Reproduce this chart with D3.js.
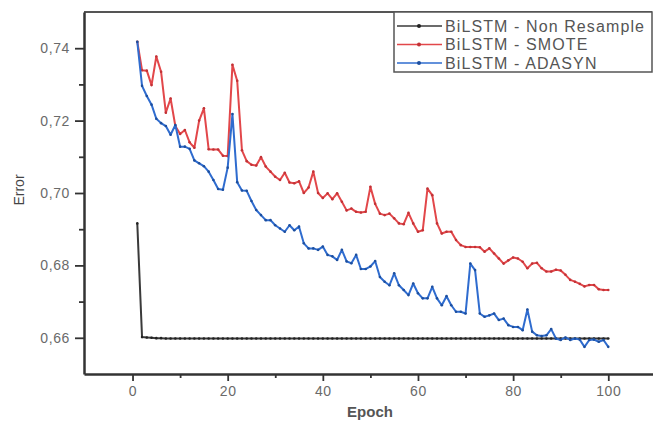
<!DOCTYPE html>
<html>
<head>
<meta charset="utf-8">
<script src="https://cdn.jsdelivr.net/npm/d3@7"></script>
<style>
  body { margin: 0; background: #fff; }
  text { font-family: "Liberation Sans", Arial, sans-serif; }
</style>
</head>
<body>
<div id="chart"></div>
<script>
////////////
//  DATA  //
////////////

var epochs = d3.range(1, 101);

var nonResample = [
  0.6916, 0.6602, 0.6601, 0.6600, 0.6599, 0.6599, 0.6598, 0.6598, 0.6598, 0.6598,
  0.6598, 0.6598, 0.6598, 0.6598, 0.6598, 0.6598, 0.6598, 0.6598, 0.6598, 0.6598,
  0.6598, 0.6598, 0.6598, 0.6598, 0.6598, 0.6598, 0.6598, 0.6598, 0.6598, 0.6598,
  0.6598, 0.6598, 0.6598, 0.6598, 0.6598, 0.6598, 0.6598, 0.6598, 0.6598, 0.6598,
  0.6598, 0.6598, 0.6598, 0.6598, 0.6598, 0.6598, 0.6598, 0.6598, 0.6598, 0.6598,
  0.6598, 0.6598, 0.6598, 0.6598, 0.6598, 0.6598, 0.6598, 0.6598, 0.6598, 0.6598,
  0.6598, 0.6598, 0.6598, 0.6598, 0.6598, 0.6598, 0.6598, 0.6598, 0.6598, 0.6598,
  0.6598, 0.6598, 0.6598, 0.6598, 0.6598, 0.6598, 0.6598, 0.6598, 0.6598, 0.6598,
  0.6598, 0.6598, 0.6598, 0.6598, 0.6598, 0.6598, 0.6598, 0.6598, 0.6598, 0.6598,
  0.6598, 0.6598, 0.6598, 0.6598, 0.6598, 0.6598, 0.6598, 0.6598, 0.6598, 0.6598
];

var smote = [
  0.7418, 0.7339, 0.7338, 0.7298, 0.7377, 0.7335, 0.7222, 0.7261, 0.7185, 0.7163,
  0.7174, 0.7140, 0.7125, 0.7200, 0.7234, 0.7121, 0.7120, 0.7120, 0.7103, 0.7102,
  0.7354, 0.7310, 0.7118, 0.7088, 0.7078, 0.7076, 0.7099, 0.7073, 0.7059, 0.7045,
  0.7036, 0.7056, 0.7029, 0.7027, 0.7032, 0.7000, 0.7015, 0.7059, 0.7000, 0.6986,
  0.6999, 0.6983, 0.6999, 0.6976, 0.6952, 0.6957, 0.6948, 0.6946, 0.6948, 0.7017,
  0.6970, 0.6943, 0.6939, 0.6943, 0.6930, 0.6916, 0.6914, 0.6945, 0.6916, 0.6893,
  0.6897, 0.7012, 0.6994, 0.6916, 0.6888, 0.6893, 0.6893, 0.6870, 0.6856, 0.6851,
  0.6851, 0.6851, 0.6850, 0.6838, 0.6847, 0.6833, 0.6819, 0.6805, 0.6814, 0.6822,
  0.6819, 0.6810, 0.6792, 0.6805, 0.6807, 0.6792, 0.6783, 0.6783, 0.6788, 0.6786,
  0.6774, 0.6760, 0.6755, 0.6749, 0.6742, 0.6746, 0.6746, 0.6734, 0.6732, 0.6732
];

var adasyn = [
  0.7418, 0.7296, 0.7268, 0.7244, 0.7205, 0.7193, 0.7185, 0.7161, 0.7188, 0.7128,
  0.7128, 0.7122, 0.7090, 0.7082, 0.7074, 0.7059, 0.7036, 0.7011, 0.7009, 0.7070,
  0.7218, 0.7030, 0.7007, 0.7006, 0.6978, 0.6953, 0.6939, 0.6925, 0.6925, 0.6911,
  0.6902, 0.6893, 0.6911, 0.6897, 0.6907, 0.6861, 0.6847, 0.6847, 0.6843, 0.6852,
  0.6829, 0.6825, 0.6815, 0.6843, 0.6811, 0.6806, 0.6829, 0.6790, 0.6790, 0.6797,
  0.6812, 0.6768, 0.6755, 0.6745, 0.6778, 0.6745, 0.6732, 0.6718, 0.6750, 0.6723,
  0.6709, 0.6709, 0.6741, 0.6709, 0.6690, 0.6715, 0.6690, 0.6672, 0.6672, 0.6667,
  0.6805, 0.6787, 0.6667, 0.6658, 0.6662, 0.6667, 0.6649, 0.6653, 0.6635, 0.6630,
  0.6630, 0.6621, 0.6678, 0.6617, 0.6607, 0.6605, 0.6607, 0.6624, 0.6598, 0.6594,
  0.6601, 0.6594, 0.6598, 0.6595, 0.6575, 0.6594, 0.6595, 0.6589, 0.6594, 0.6575
];

var seriesNames = ["BiLSTM - Non Resample", "BiLSTM - SMOTE", "BiLSTM - ADASYN"];
var seriesColors = ["#3a3a3a", "#e2474a", "#2f6ccf"];
var markerColors = ["#222", "#c23236", "#1d4f9e"];

var xTicks = [0, 20, 40, 60, 80, 100];
var xMinor = [10, 30, 50, 70, 90];
var yTicks = [0.66, 0.68, 0.70, 0.72, 0.74];
var yMinor = [0.67, 0.69, 0.71, 0.73];

////////////////
// DIMENSIONS //
////////////////

var svgWidth = 653, svgHeight = 425;
var plot = { left: 84, top: 12, right: 653, bottom: 374 };

var svg = d3.select("#chart").append("svg")
  .attr("width", svgWidth)
  .attr("height", svgHeight);

var x = d3.scaleLinear().domain([-10.2, 109.4]).range([plot.left, plot.right]);
var y = d3.scaleLinear().domain([0.65, 0.75]).range([plot.bottom, plot.top]);

var commaFmt = function (d) { return d3.format(".2f")(d).replace(".", ","); };

//////////
// AXES //
//////////

// top frame line
svg.append("line")
  .attr("x1", plot.left).attr("x2", 652)
  .attr("y1", plot.top).attr("y2", plot.top)
  .attr("stroke", "#555").attr("stroke-width", 2);

var xAxis = svg.append("g")
  .attr("transform", "translate(0," + plot.bottom + ")")
  .call(d3.axisBottom(x).tickValues(xTicks).tickSize(7).tickPadding(5).tickSizeOuter(0));

svg.append("g")
  .attr("transform", "translate(0," + plot.bottom + ")")
  .call(d3.axisBottom(x).tickValues(xMinor).tickSize(4).tickFormat("").tickSizeOuter(0))
  .select(".domain").remove();

var yAxis = svg.append("g")
  .attr("transform", "translate(" + plot.left + ",0)")
  .call(d3.axisLeft(y).tickValues(yTicks).tickFormat(commaFmt).tickSize(9).tickPadding(5).tickSizeOuter(0));

svg.append("g")
  .attr("transform", "translate(" + plot.left + ",0)")
  .call(d3.axisLeft(y).tickValues(yMinor).tickSize(5).tickFormat("").tickSizeOuter(0))
  .select(".domain").remove();

svg.selectAll(".domain").attr("stroke", "#333").attr("stroke-width", 2.5);
svg.selectAll(".tick line").attr("stroke", "#333").attr("stroke-width", 1.8);
svg.selectAll(".tick text")
  .attr("fill", "#6a6a6a")
  .style("font-size", "14px")
  .style("letter-spacing", "0.6px");

svg.append("text")
  .attr("transform", "translate(19,190) rotate(-90)")
  .attr("text-anchor", "middle")
  .attr("dy", "0.35em")
  .attr("fill", "#444")
  .style("font-size", "14px")
  .text("Error");

svg.append("text")
  .attr("x", 370)
  .attr("y", 417)
  .attr("text-anchor", "middle")
  .attr("fill", "#555")
  .style("font-size", "15px")
  .style("font-weight", "bold")
  .text("Epoch");

///////////
// LINES //
///////////

var allSeries = [nonResample, smote, adasyn];

var line = d3.line()
  .x(function (d, i) { return x(epochs[i]); })
  .y(function (d) { return y(d); });

// draw in the order that puts blue on top
[1, 0, 2].forEach(function (k) {
  var g = svg.append("g");
  g.append("path")
    .datum(allSeries[k])
    .attr("fill", "none")
    .attr("stroke", seriesColors[k])
    .attr("stroke-width", 2)
    .attr("stroke-linejoin", "round")
    .attr("d", line);
  g.selectAll("circle")
    .data(allSeries[k])
    .enter().append("circle")
    .attr("cx", function (d, i) { return x(epochs[i]); })
    .attr("cy", function (d) { return y(d); })
    .attr("r", 1.3)
    .attr("fill", markerColors[k]);
});

////////////
// LEGEND //
////////////

var legend = svg.append("g");

legend.append("rect")
  .attr("x", 394).attr("y", 12)
  .attr("width", 258).attr("height", 60)
  .attr("fill", "#fff")
  .attr("stroke", "#555")
  .attr("stroke-width", 1.5);

seriesNames.forEach(function (name, i) {
  var ly = 26 + i * 18.5;
  legend.append("line")
    .attr("x1", 397).attr("x2", 442)
    .attr("y1", ly).attr("y2", ly)
    .attr("stroke", seriesColors[i])
    .attr("stroke-width", 1.5);
  legend.append("circle")
    .attr("cx", 419).attr("cy", ly).attr("r", 2)
    .attr("fill", markerColors[i]);
  legend.append("text")
    .attr("x", 445).attr("y", ly)
    .attr("dy", "0.36em")
    .attr("fill", "#555")
    .style("font-size", "16px")
    .style("letter-spacing", "1.1px")
    .text(name);
});
</script>
</body>
</html>
